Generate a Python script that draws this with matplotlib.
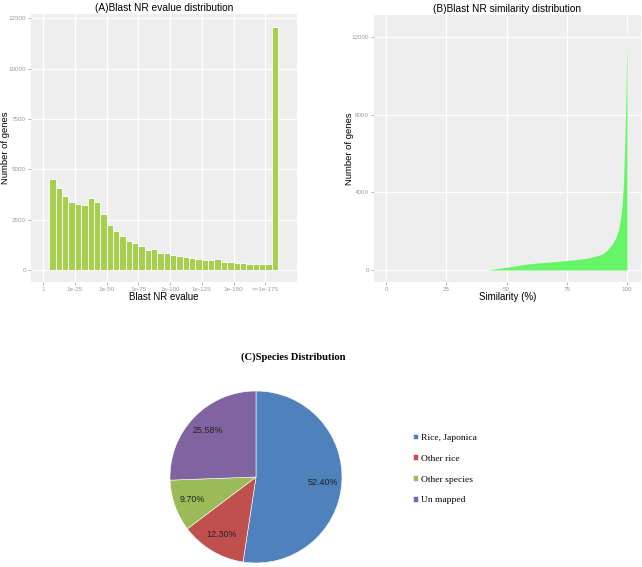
import matplotlib
matplotlib.use('Agg')
import matplotlib.pyplot as plt
import numpy as np

# (A) evalue histogram, -log10(evalue) bins of width 5
evalue_bins = [7.5 + 5 * i for i in range(36)]
evalue_counts = [4500, 4070, 3680, 3390, 3300, 3230, 3580, 3390, 2760, 2240,
                 1950, 1690, 1460, 1360, 1190, 990, 1030, 830, 830, 750,
                 710, 650, 580, 530, 510, 490, 530, 400, 400, 370,
                 340, 320, 320, 300, 300, 12080]
evalue_ticks = [0, 25, 50, 75, 100, 125, 150, 175]
evalue_ticklabels = ['1', '1e-25', '1e-50', '1e-75', '1e-100', '1e-125', '1e-150', '<=1e-175']

# (B) similarity distribution
similarity = [41.7, 45, 50, 55, 58, 62, 66, 70, 75, 80, 84, 88, 90, 92, 94,
              95.5, 96.5, 97.5, 98, 98.5, 99, 99.3, 99.6, 99.9, 100]
sim_counts = [0, 50, 140, 240, 300, 350, 390, 430, 490, 550, 620, 750, 830, 1050, 1350,
              1700, 2100, 2800, 3400, 4400, 6200, 7500, 9100, 11700, 12600]

# (C) species
species = ['Rice, Japonica', 'Other rice', 'Other species', 'Un mapped']
species_pct = [52.40, 12.30, 9.70, 25.58]
species_colors = ['#4F81BD', '#C0504D', '#9BBB59', '#8064A2']

W, H = 642, 567
fig = plt.figure(figsize=(W / 100, H / 100), dpi=100)
plt.rcParams['font.family'] = ['Liberation Sans', 'DejaVu Sans']


def px_axes(x0, y0, x1, y1):
    return fig.add_axes([x0 / W, 1 - y1 / H, (x1 - x0) / W, (y1 - y0) / H])


def gg_style(ax):
    ax.set_facecolor('#EEEEEE')
    for s in ax.spines.values():
        s.set_visible(False)
    ax.grid(True, color='white', linewidth=0.9)
    ax.set_axisbelow(True)
    ax.tick_params(labelsize=4.5, labelcolor='#999999', color='#999999',
                   length=2, width=0.5, pad=1.5)


# panel A
axA = px_axes(31, 14, 297, 282)
gg_style(axA)
axA.bar(evalue_bins, evalue_counts, width=5, color='#A7CF4F', edgecolor='white', linewidth=0.6)
axA.set_xlim(-9.5, 200)
axA.set_ylim(-596, 12713)
axA.set_xticks(evalue_ticks)
axA.set_xticklabels(evalue_ticklabels)
axA.set_yticks([0, 2500, 5000, 7500, 10000, 12500])
axA.set_title('(A)Blast NR evalue distribution', fontsize=7.3, pad=2)
axA.set_xlabel('Blast NR evalue', fontsize=7, labelpad=0)
axA.set_ylabel('Number of genes', fontsize=6.8)
axA.yaxis.set_label_coords(-0.079, 0.5)

# panel B
axB = px_axes(374, 15, 641, 282)
gg_style(axB)
axB.fill_between(similarity, sim_counts, 0, color='#66F566', linewidth=0)
axB.set_xlim(-5, 105.8)
axB.set_ylim(-618, 13133)
axB.set_xticks([0, 25, 50, 75, 100])
axB.set_yticks([0, 4000, 8000, 12000])
axB.set_title('(B)Blast NR similarity distribution', fontsize=7.3, pad=2)
axB.set_xlabel('Similarity (%)', fontsize=7, labelpad=0)
axB.set_ylabel('Number of genes', fontsize=6.8)
axB.yaxis.set_label_coords(-0.075, 0.5)

# panel C
axC = px_axes(170, 391, 342, 563)
pct_labels = ['%.2f%%' % v for v in species_pct]
wedges, texts = axC.pie(species_pct, colors=species_colors, startangle=90,
                        counterclock=False, labels=pct_labels, labeldistance=0.78,
                        wedgeprops=dict(edgecolor='white', linewidth=0.4),
                        textprops=dict(fontsize=6.4, color='#222222'))
for t in texts:
    t.set_ha('center')
    t.set_va('center')
axC.set_xlim(-1, 1)
axC.set_ylim(-1, 1)
axC.set_aspect('equal')
fig.text(293 / W, 1 - 357 / H, '(C)Species Distribution', ha='center', va='center',
         fontsize=7.6, fontweight='bold', family='Liberation Serif')
fig.legend(wedges, species, loc='center left', bbox_to_anchor=(404 / W, 1 - 469 / H),
           frameon=False, prop=dict(family='Liberation Serif', size=6.8),
           handlelength=0.55, handleheight=0.55, handletextpad=0.3, labelspacing=1.35)

fig.savefig('out.png', dpi=100)
